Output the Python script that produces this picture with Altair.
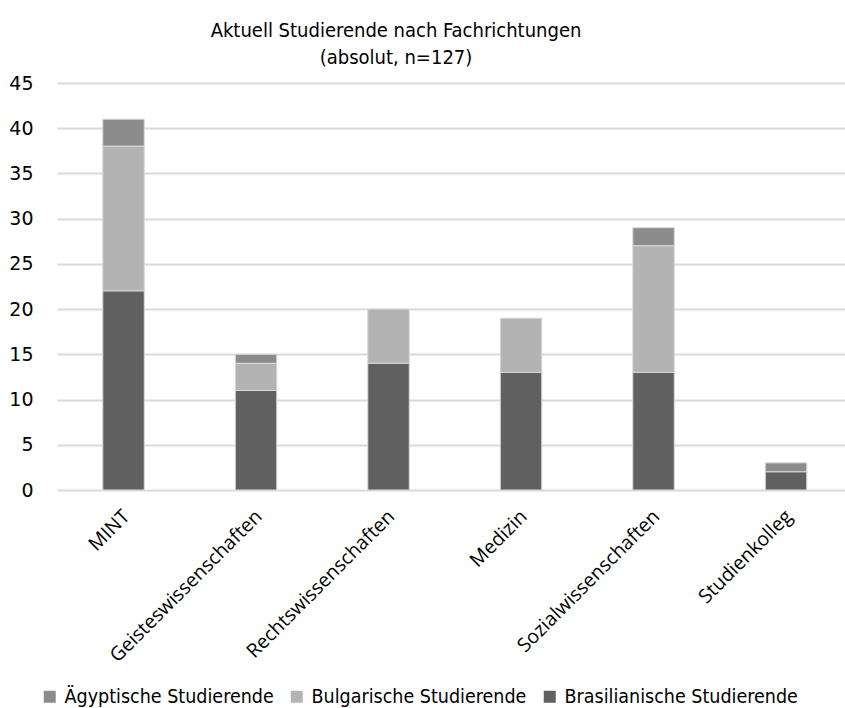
import altair as alt
import pandas as pd

categories = ["MINT", "Geisteswissenschaften", "Rechtswissenschaften", "Medizin",
              "Sozialwissenschaften", "Studienkolleg"]
series = ["Ägyptische Studierende", "Bulgarische Studierende", "Brasilianische Studierende"]
aegyptische = [3, 1, 0, 0, 2, 1]
bulgarische = [16, 3, 6, 6, 14, 0]
brasilianische = [22, 11, 14, 13, 13, 2]
colors = ["#8c8c8c", "#b3b3b3", "#606060"]
y_ticks = [0, 5, 10, 15, 20, 25, 30, 35, 40, 45]

rows = []
for i, c in enumerate(categories):
    for s, vals, order in [(series[0], aegyptische, 2), (series[1], bulgarische, 1),
                           (series[2], brasilianische, 0)]:
        rows.append({"Fach": c, "Gruppe": s, "Wert": vals[i], "ord": order})
df = pd.DataFrame(rows)

title_font = "Liberation Sans Narrow, DejaVu Sans Condensed, Roboto Condensed, Roboto"

chart = (
    alt.Chart(df)
    .transform_filter(alt.datum.Wert > 0)
    .mark_bar(stroke="#d9d9d9", strokeWidth=1)
    .encode(
        x=alt.X("Fach:N", sort=categories, title=None,
                scale=alt.Scale(paddingInner=0.687, paddingOuter=0.317, align=0.545),
                axis=alt.Axis(labelAngle=-45, labelAlign="right", labelBaseline="middle",
                              labelPadding=23, labelOffset=3, ticks=False, domain=False,
                              labelFont="Open Sans", labelFontSize=19.5, labelColor="#000000",
                              labelLimit=0)),
        y=alt.Y("Wert:Q", stack="zero", title=None,
                scale=alt.Scale(domain=[0, 45], nice=False),
                axis=alt.Axis(values=y_ticks, ticks=False, domain=False,
                              labelPadding=24, labelFont="DejaVu Sans", labelFontSize=19,
                              labelColor="#000000", gridColor="#d9d9d9", gridWidth=2)),
        color=alt.Color("Gruppe:N", sort=series,
                        scale=alt.Scale(domain=series, range=colors),
                        legend=alt.Legend(title=None, orient="none", direction="horizontal",
                                          legendX=-17, legendY=604, symbolType="square",
                                          symbolSize=144, symbolStrokeWidth=0,
                                          labelFont=title_font, labelFontSize=19.5,
                                          labelColor="#000000", labelOffset=5,
                                          labelLimit=0, columnPadding=13, padding=0,
                                          gridAlign="none")),
        order=alt.Order("ord:Q", sort="ascending"),
    )
    .properties(
        width=788,
        height=407,
        autosize=alt.AutoSizeParams(type="none"),
        padding={"left": 57, "top": 83, "right": 0, "bottom": 218},
        title=alt.TitleParams(
            text=["Aktuell Studierende nach Fachrichtungen", "(absolut, n=127)"],
            font=title_font, fontSize=20, fontWeight="normal", color="#000000",
            lineHeight=27, anchor="middle", dx=-55, offset=6,
        ),
    )
    .configure_view(stroke=None)
)

chart.save("out.html", embed_options={"renderer": "svg", "actions": False})
